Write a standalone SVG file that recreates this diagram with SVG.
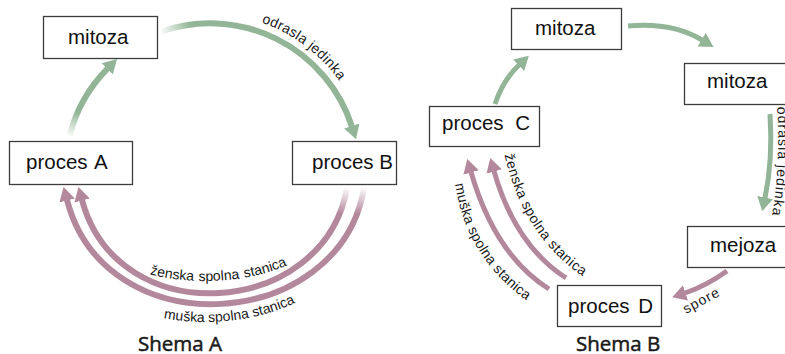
<svg xmlns="http://www.w3.org/2000/svg" width="785" height="354" viewBox="0 0 785 354">
  <style>
    .box{fill:#ffffff;stroke:#3c3c3c;stroke-width:1.3}
    .lbl{font-family:"Liberation Sans",Arial,sans-serif;font-size:20.5px;fill:#111111}
    .small{font-family:"Liberation Sans",Arial,sans-serif;font-size:14px;fill:#1a1a1a}
    .title{font-family:"Open Sans","Noto Sans",sans-serif;font-size:20.5px;fill:#1a1a1a;stroke:#1a1a1a;stroke-width:0.5}
    .gb{fill:none;stroke:#92b597;stroke-width:5}
    .pb{fill:none;stroke:#b4889c;stroke-width:5}
  </style>
  <defs>
    <marker id="headG" markerUnits="userSpaceOnUse" viewBox="0 0 14 16" refX="0.5" refY="8" markerWidth="14" markerHeight="16" orient="auto">
      <path d="M0,0 L14,8 L0,16 Z" fill="#92b597"/>
    </marker>
    <marker id="headP" markerUnits="userSpaceOnUse" viewBox="0 0 14 16" refX="0.5" refY="8" markerWidth="14" markerHeight="16" orient="auto">
      <path d="M0,0 L14,8 L0,16 Z" fill="#b4889c"/>
    </marker>
    <!-- soft fade-in at the tail of the Shema A arrows -->
    <linearGradient id="fadeGL" gradientUnits="userSpaceOnUse" x1="69" y1="137" x2="80" y2="113">
      <stop offset="0" stop-color="#92b597" stop-opacity="0"/>
      <stop offset="1" stop-color="#92b597"/>
    </linearGradient>
    <linearGradient id="fadeGT" gradientUnits="userSpaceOnUse" x1="160" y1="32" x2="190" y2="24">
      <stop offset="0" stop-color="#92b597" stop-opacity="0"/>
      <stop offset="1" stop-color="#92b597"/>
    </linearGradient>
    <linearGradient id="fadePO" gradientUnits="userSpaceOnUse" x1="364" y1="187" x2="359" y2="214">
      <stop offset="0" stop-color="#b4889c" stop-opacity="0"/>
      <stop offset="1" stop-color="#b4889c"/>
    </linearGradient>
    <linearGradient id="fadePI" gradientUnits="userSpaceOnUse" x1="347" y1="187" x2="342" y2="214">
      <stop offset="0" stop-color="#b4889c" stop-opacity="0"/>
      <stop offset="1" stop-color="#b4889c"/>
    </linearGradient>
    <!-- baselines for curved labels -->
    <path id="tpOA" d="M261.4,22.6 A158,158 0 0 1 358.5,118"/>
    <path id="tpZA" d="M65,199 A140,82 0 0 0 345,199"/>
    <path id="tpMA" d="M45,212 A160,110 0 0 0 365,212"/>
    <path id="tpOB" d="M777,106 Q781,160 772,216"/>
    <path id="tpZB" d="M504,153 Q524,242 592,282"/>
    <path id="tpMB" d="M455,184 Q468,268 545,312"/>
  </defs>

  <rect x="0" y="0" width="785" height="354" fill="#ffffff"/>

  <g id="connectors">
    <!-- Shema A -->
    <path d="M69.4,136.4 A147,147 0 0 1 107.5,68.6" style="fill:none;stroke:url(#fadeGL);stroke-width:6" marker-end="url(#headG)"/>
    <path d="M160,32 A149,149 0 0 1 351.9,126.5" style="fill:none;stroke:url(#fadeGT);stroke-width:6" marker-end="url(#headG)"/>
    <path d="M347,188 C324,318 118,334 82,200" style="fill:none;stroke:url(#fadePI);stroke-width:6" marker-end="url(#headP)"/>
    <path d="M364,188 C340,332 106,349 67,200" style="fill:none;stroke:url(#fadePO);stroke-width:6" marker-end="url(#headP)"/>
    <!-- Shema B -->
    <path class="gb" d="M495,104 Q503,80 519,65" marker-end="url(#headG)"/>
    <path class="gb" d="M628,26 Q672,22 702,40" marker-end="url(#headG)"/>
    <path class="gb" d="M770,114 Q773,160 765,198" marker-end="url(#headG)"/>
    <path class="pb" d="M727,271 Q706,286 685,293" marker-end="url(#headP)"/>
    <path class="pb" d="M566,278 Q515,245 494,171" marker-end="url(#headP)"/>
    <path class="pb" d="M549,289 Q495,255 471,172" marker-end="url(#headP)"/>
  </g>

  <g id="connector-labels">
    <text class="small" letter-spacing="0.3"><textPath href="#tpOA">odrasla jedinka</textPath></text>
    <text class="small" text-anchor="middle" word-spacing="1"><textPath href="#tpZA" startOffset="54%">ženska spolna stanica</textPath></text>
    <text class="small" text-anchor="middle"><textPath href="#tpMA" startOffset="56%">muška spolna stanica</textPath></text>
    <text class="small" letter-spacing="1"><textPath href="#tpOB" startOffset="1">odrasla jedinka</textPath></text>
    <text class="small" letter-spacing="0.5"><textPath href="#tpZB" startOffset="2">ženska spolna stanica</textPath></text>
    <text class="small" letter-spacing="0.3"><textPath href="#tpMB">muška spolna stanica</textPath></text>
    <text class="small" x="686" y="314" letter-spacing="1" transform="rotate(-28 686 314)">spore</text>
  </g>

  <!-- Shema A nodes -->
  <g id="node-a-mitoza">
    <rect class="box" x="43.5" y="16.5" width="114" height="42"/>
    <text class="lbl" x="68" y="43.5">mitoza</text>
  </g>
  <g id="node-proces-a">
    <rect class="box" x="9.5" y="141.5" width="123" height="43"/>
    <text class="lbl" x="26" y="169" word-spacing="2">proces A</text>
  </g>
  <g id="node-proces-b">
    <rect class="box" x="292.5" y="141.5" width="104" height="43"/>
    <text class="lbl" x="312" y="169">proces B</text>
  </g>

  <!-- Shema B nodes -->
  <g id="node-b-mitoza-top">
    <rect class="box" x="511.5" y="8.5" width="110" height="41"/>
    <text class="lbl" x="535" y="35">mitoza</text>
  </g>
  <g id="node-b-mitoza-right">
    <rect class="box" x="684.5" y="63.5" width="120" height="41"/>
    <text class="lbl" x="707" y="88">mitoza</text>
  </g>
  <g id="node-proces-c">
    <rect class="box" x="429.5" y="106.5" width="110" height="40"/>
    <text class="lbl" x="442" y="130" word-spacing="6">proces C</text>
  </g>
  <g id="node-mejoza">
    <rect class="box" x="687.5" y="226.5" width="120" height="41"/>
    <text class="lbl" x="710" y="252">mejoza</text>
  </g>
  <g id="node-proces-d">
    <rect class="box" x="557.5" y="285.5" width="104" height="41"/>
    <text class="lbl" x="568" y="313" word-spacing="3">proces D</text>
  </g>

  <text class="title" x="138" y="351">Shema A</text>
  <text class="title" x="576" y="351">Shema B</text>
</svg>
